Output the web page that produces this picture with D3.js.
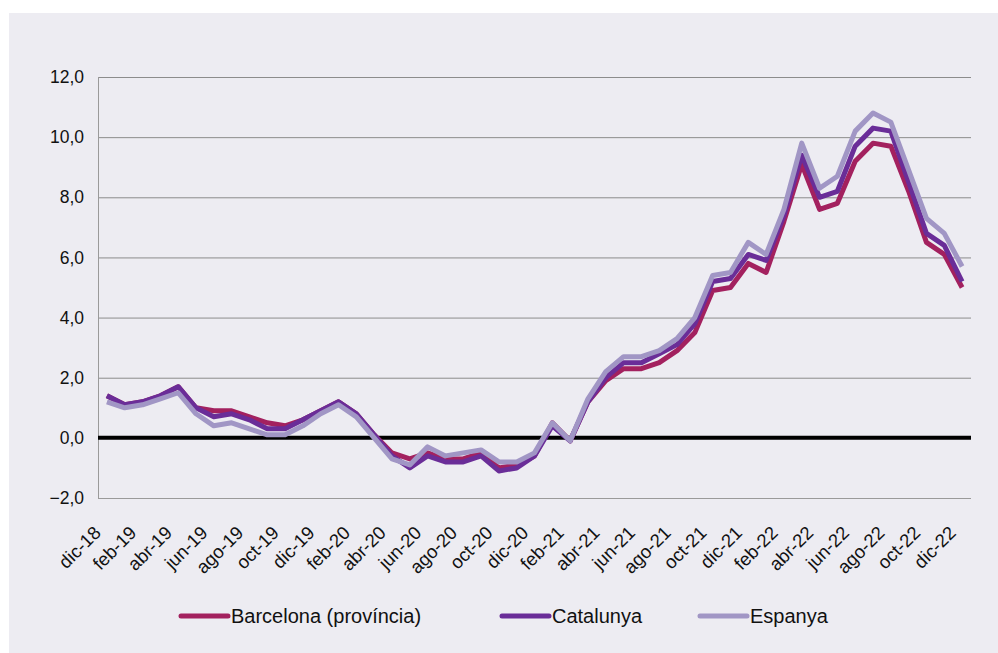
<!DOCTYPE html>
<html>
<head>
<meta charset="utf-8">
<script src="https://cdn.jsdelivr.net/npm/d3@7"></script>
<style>
  body { margin: 0; background: #fff; }
  svg { display: block; font-family: "Liberation Sans", Arial, sans-serif; }
</style>
</head>
<body>
<svg id="chart" width="998" height="653"></svg>
<script>
// months, dic-18 .. dic-22
var months = ["dic-18","ene-19","feb-19","mar-19","abr-19","may-19","jun-19","jul-19","ago-19","sep-19","oct-19","nov-19",
  "dic-19","ene-20","feb-20","mar-20","abr-20","may-20","jun-20","jul-20","ago-20","sep-20","oct-20","nov-20",
  "dic-20","ene-21","feb-21","mar-21","abr-21","may-21","jun-21","jul-21","ago-21","sep-21","oct-21","nov-21",
  "dic-21","ene-22","feb-22","mar-22","abr-22","may-22","jun-22","jul-22","ago-22","sep-22","oct-22","nov-22","dic-22"];

var barcelona = [1.4,1.1,1.2,1.4,1.7,1.0,0.9,0.9,0.7,0.5,0.4,0.6,
  0.9,1.2,0.8,0.1,-0.5,-0.7,-0.5,-0.7,-0.7,-0.5,-1.0,-0.9,
  -0.6,0.5,-0.1,1.2,1.9,2.3,2.3,2.5,2.9,3.5,4.9,5.0,
  5.8,5.5,7.2,9.1,7.6,7.8,9.2,9.8,9.7,8.2,6.5,6.1,5.0];

var catalunya = [1.4,1.1,1.2,1.4,1.7,1.0,0.7,0.8,0.6,0.3,0.3,0.6,
  0.9,1.2,0.8,0.1,-0.6,-1.0,-0.6,-0.8,-0.8,-0.6,-1.1,-1.0,
  -0.6,0.4,-0.1,1.2,2.0,2.5,2.5,2.8,3.1,3.8,5.2,5.3,
  6.1,5.9,7.4,9.4,8.0,8.2,9.7,10.3,10.2,8.5,6.8,6.4,5.2];

var espanya = [1.2,1.0,1.1,1.3,1.5,0.8,0.4,0.5,0.3,0.1,0.1,0.4,
  0.8,1.1,0.7,0.0,-0.7,-0.9,-0.3,-0.6,-0.5,-0.4,-0.8,-0.8,
  -0.5,0.5,-0.1,1.3,2.2,2.7,2.7,2.9,3.3,4.0,5.4,5.5,
  6.5,6.1,7.6,9.8,8.3,8.7,10.2,10.8,10.5,8.9,7.3,6.8,5.7];

var yTicks = [-2, 0, 2, 4, 6, 8, 10, 12];

var series = [
  {name: "Barcelona (província)", values: barcelona, color: "#A3215F"},
  {name: "Catalunya", values: catalunya, color: "#6A2D98"},
  {name: "Espanya", values: espanya, color: "#A196C5"}
];

var svg = d3.select("#chart");
var margin = {top: 77, left: 98, bottom: 155, right: 27};
var width = +svg.attr("width"), height = +svg.attr("height");

// background panel
svg.append("rect").attr("x", 9).attr("y", 13).attr("width", width - 9).attr("height", height - 13)
  .attr("fill", "#EDECF2");

var x = d3.scaleBand().domain(months).range([margin.left, width - margin.right]);
var y = d3.scaleLinear().domain([-2, 12]).range([height - margin.bottom, margin.top]);

var fmt = d => d3.format(".1f")(d).replace(".", ",");

// grid
svg.append("g").selectAll("line").data(yTicks.filter(d => d !== 0 && d !== -2)).enter().append("line")
  .attr("x1", margin.left).attr("x2", width - margin.right)
  .attr("y1", d => y(d) + 0.5).attr("y2", d => y(d) + 0.5)
  .attr("stroke", "#8c8c8c").attr("stroke-width", 1);

// y axis
var yAxis = svg.append("g")
  .attr("transform", `translate(${margin.left},0)`)
  .call(d3.axisLeft(y).tickValues(yTicks).tickFormat(fmt).tickSize(0).tickPadding(14));
yAxis.select(".domain").attr("stroke", "#9a9a9a").attr("d", `M0.5,${y(-2)}V${y(12)}`);
yAxis.selectAll("text").attr("font-size", 17.5).attr("fill", "#111")
  .attr("font-family", "'Liberation Sans', Arial, sans-serif");

// x axis
var xAxis = svg.append("g")
  .attr("transform", `translate(0,${y(-2)})`)
  .call(d3.axisBottom(x).tickValues(months.filter((d, i) => i % 2 === 0)).tickSize(0).tickPadding(0));
xAxis.select(".domain").attr("stroke", "#9a9a9a").attr("d", `M${margin.left},0.5H${width - margin.right}`);
xAxis.selectAll("text")
  .attr("font-size", 18.5).attr("fill", "#111")
  .attr("font-family", "'Liberation Sans', Arial, sans-serif")
  .attr("text-anchor", "end")
  .attr("y", 0)
  .attr("dy", 0)
  .attr("transform", "translate(-5,36) rotate(-45)");

// zero line
svg.append("line")
  .attr("x1", margin.left).attr("x2", width - margin.right)
  .attr("y1", y(0)).attr("y2", y(0))
  .attr("stroke", "#000").attr("stroke-width", 4);

var line = d3.line()
  .x((d, i) => x(months[i]) + x.bandwidth() / 2)
  .y(d => y(d));

svg.append("g").selectAll("path").data(series).enter().append("path")
  .attr("d", d => line(d.values))
  .attr("fill", "none")
  .attr("stroke", d => d.color)
  .attr("stroke-width", 5)
  .attr("stroke-linejoin", "round");

// legend
var legendX = [181, 502, 700];
var legend = svg.append("g").selectAll("g").data(series).enter().append("g")
  .attr("transform", (d, i) => `translate(${legendX[i]},616)`);
legend.append("line").attr("x1", 0).attr("x2", 47)
  .attr("stroke", d => d.color).attr("stroke-width", 5).attr("stroke-linecap", "round");
legend.append("text").attr("x", 50).attr("dy", "0.35em")
  .attr("font-size", 20).attr("fill", "#111")
  .text(d => d.name);
</script>
</body>
</html>
